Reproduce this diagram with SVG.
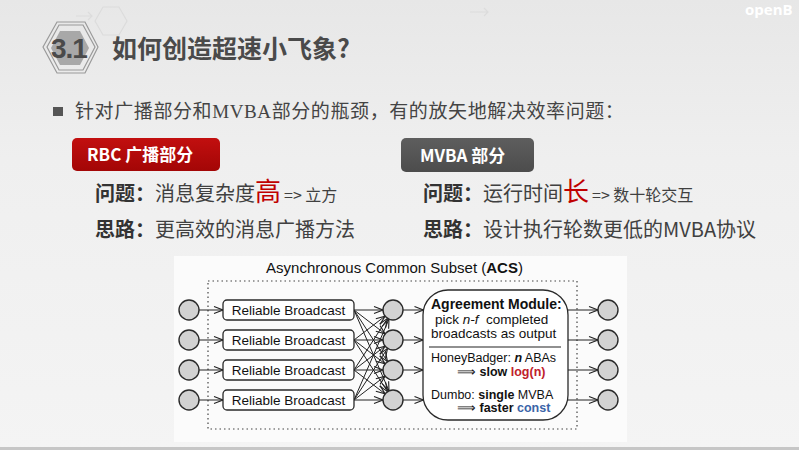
<svg xmlns="http://www.w3.org/2000/svg" width="799" height="450" viewBox="0 0 799 450">
  <defs>
    <linearGradient id="bg" x1="0" y1="0" x2="0" y2="1">
      <stop offset="0" stop-color="#e7e7e7"/>
      <stop offset="0.35" stop-color="#efefef"/>
      <stop offset="1" stop-color="#f4f4f4"/>
    </linearGradient>
    <linearGradient id="redTag" x1="0" y1="0" x2="0" y2="1">
      <stop offset="0" stop-color="#c20f0f"/>
      <stop offset="1" stop-color="#a30606"/>
    </linearGradient>
    <linearGradient id="grayTag" x1="0" y1="0" x2="0" y2="1">
      <stop offset="0" stop-color="#5e5e5e"/>
      <stop offset="1" stop-color="#4c4c4c"/>
    </linearGradient>
    <marker id="arr" markerUnits="userSpaceOnUse" markerWidth="11" markerHeight="9" refX="10" refY="4.5" orient="auto">
      <path d="M1,1 L10,4.5 L1,8" fill="none" stroke="#222" stroke-width="1.1"/>
    </marker>
    <style>
      .cjk { font-family: "Noto Sans CJK SC", "Liberation Sans", sans-serif; }
      .body { fill: #404040; font-size: 20px; }
      .lbl { font-weight: bold; fill: #333; }
      .hi { fill: #c00000; font-size: 26px; }
      .sm { font-size: 16px; }
      .tagtxt { fill: #fff; font-size: 17px; font-weight: bold; }
      .sans { font-family: "Liberation Sans", Arial, sans-serif; fill: #111; }
      .node { fill: #d2d2d2; stroke: #2a2a2a; stroke-width: 1.4; }
      .box { fill: #fff; stroke: #2a2a2a; stroke-width: 1.3; }
      .edge { stroke: #222; stroke-width: 1; fill: none; marker-end: url(#arr); }
    </style>
  </defs>

  <!-- slide background -->
  <rect width="799" height="450" fill="url(#bg)"/>
  <rect x="0" y="447" width="799" height="3" fill="#c6c6c6"/>

  <!-- faint decorative outlines -->
  <g fill="none" stroke="#dcdcdc" stroke-width="1.2">
    <polygon points="95,21 103,7 119,7 127,21 119,35 103,35"/>
    <path d="M76,16 L92,16 M88,12 L92,16 L88,20"/>
    <path d="M470,12 L488,12 M484,8 L488,12 L484,16"/>
  </g>
  <text x="745" y="15" font-family="'Open Sans', 'Liberation Sans', sans-serif" font-size="15" font-weight="bold" fill="#ffffff">openB</text>

  <!-- section badge -->
  <g id="badge">
    <polygon points="43,47 57,22 85,22 98,47 85,73 57,73" fill="none" stroke="#9a9a9a" stroke-width="1.2"/>
    <polygon points="47,47 59,25 83,25 95,47 83,70 59,70" fill="none" stroke="#9a9a9a" stroke-width="1.2"/>
    <polygon points="51,48 60,31 80,31 89,48 80,65 60,65" fill="#a8a8a8"/>
    <text x="51" y="58" font-family="'Liberation Sans', Arial, sans-serif" font-size="28" font-weight="bold" letter-spacing="-1" fill="#4a4a4a">3.1</text>
  </g>
  <text id="title" x="112" y="58" class="cjk" font-size="25" font-weight="bold" fill="#4a4a4a">如何创造超速小飞象?</text>

  <!-- bullet line -->
  <rect x="53" y="107" width="10" height="9" fill="#555"/>
  <text x="75" y="118" class="cjk" font-size="19" letter-spacing="0.6" fill="#444">针对广播部分和<tspan font-family="'Liberation Serif', serif">MVBA</tspan>部分的瓶颈，有的放矢地解决效率问题：</text>

  <!-- RBC column -->
  <g id="rbc-tag">
    <rect x="72" y="138" width="148" height="33" rx="5" fill="url(#redTag)"/>
    <text x="87" y="161" class="cjk tagtxt">RBC 广播部分</text>
  </g>
  <text x="95" y="201" class="cjk body"><tspan class="lbl">问题：</tspan>消息复杂度<tspan class="hi">高</tspan><tspan class="sm" dx="3">=&gt; 立方</tspan></text>
  <text x="95" y="237" class="cjk body"><tspan class="lbl">思路：</tspan>更高效的消息广播方法</text>

  <!-- MVBA column -->
  <g id="mvba-tag">
    <rect x="401" y="138" width="133" height="34" rx="5" fill="url(#grayTag)"/>
    <text x="420" y="162" class="cjk tagtxt">MVBA 部分</text>
  </g>
  <text x="423" y="201" class="cjk body"><tspan class="lbl">问题：</tspan>运行时间<tspan class="hi">长</tspan><tspan class="sm" dx="3">=&gt; 数十轮交互</tspan></text>
  <text x="423" y="237" class="cjk body"><tspan class="lbl">思路：</tspan>设计执行轮数更低的MVBA协议</text>

  <!-- ACS figure panel -->
  <rect x="174" y="256" width="453" height="186" fill="#fbfbfb"/>
  <text x="394.5" y="273" class="sans" font-size="15" text-anchor="middle">Asynchronous Common Subset (<tspan font-weight="bold">ACS</tspan>)</text>
  <rect x="208" y="281" width="369" height="148" fill="none" stroke="#444" stroke-width="1.2" stroke-dasharray="1.5,3"/>

  <!-- connectors -->
  <g id="connectors">
    <!-- inputs to broadcast boxes -->
    <line class="edge" x1="199" y1="310" x2="223" y2="310"/>
    <line class="edge" x1="199" y1="340" x2="223" y2="340"/>
    <line class="edge" x1="199" y1="370" x2="223" y2="370"/>
    <line class="edge" x1="199" y1="400" x2="223" y2="400"/>
    <!-- all-to-all delivery: box row 1 -->
    <line class="edge" x1="354" y1="310" x2="383" y2="310"/>
    <line class="edge" x1="354" y1="310" x2="385.1" y2="333.9"/>
    <line class="edge" x1="354" y1="310" x2="387.5" y2="361.6"/>
    <line class="edge" x1="354" y1="310" x2="389" y2="390.8"/>
    <!-- box row 2 -->
    <line class="edge" x1="354" y1="340" x2="385.1" y2="316.1"/>
    <line class="edge" x1="354" y1="340" x2="383" y2="340"/>
    <line class="edge" x1="354" y1="340" x2="385.1" y2="363.9"/>
    <line class="edge" x1="354" y1="340" x2="387.5" y2="391.6"/>
    <!-- box row 3 -->
    <line class="edge" x1="354" y1="370" x2="387.5" y2="318.4"/>
    <line class="edge" x1="354" y1="370" x2="385.1" y2="346.1"/>
    <line class="edge" x1="354" y1="370" x2="383" y2="370"/>
    <line class="edge" x1="354" y1="370" x2="385.1" y2="393.9"/>
    <!-- box row 4 -->
    <line class="edge" x1="354" y1="400" x2="389" y2="319.2"/>
    <line class="edge" x1="354" y1="400" x2="387.5" y2="348.4"/>
    <line class="edge" x1="354" y1="400" x2="385.1" y2="376.1"/>
    <line class="edge" x1="354" y1="400" x2="383" y2="400"/>
    <!-- delivered sets into the agreement module -->
    <line class="edge" x1="403" y1="310" x2="423.5" y2="310"/>
    <line class="edge" x1="403" y1="340" x2="423" y2="340"/>
    <line class="edge" x1="403" y1="370" x2="423" y2="370"/>
    <line class="edge" x1="403" y1="400" x2="423.5" y2="400"/>
    <!-- outputs -->
    <line class="edge" x1="567.5" y1="310" x2="598" y2="310"/>
    <line class="edge" x1="568" y1="340" x2="598" y2="340"/>
    <line class="edge" x1="568" y1="370" x2="598" y2="370"/>
    <line class="edge" x1="567.5" y1="400" x2="598" y2="400"/>
  </g>

  <!-- input parties -->
  <g id="in1"><circle class="node" cx="189" cy="310" r="10"/></g>
  <g id="in2"><circle class="node" cx="189" cy="340" r="10"/></g>
  <g id="in3"><circle class="node" cx="189" cy="370" r="10"/></g>
  <g id="in4"><circle class="node" cx="189" cy="400" r="10"/></g>

  <!-- reliable broadcast instances -->
  <g id="rbc1"><rect class="box" x="223" y="300" width="131" height="20" rx="4"/><text x="288.5" y="315" class="sans" font-size="13.5" text-anchor="middle">Reliable Broadcast</text></g>
  <g id="rbc2"><rect class="box" x="223" y="330" width="131" height="20" rx="4"/><text x="288.5" y="345" class="sans" font-size="13.5" text-anchor="middle">Reliable Broadcast</text></g>
  <g id="rbc3"><rect class="box" x="223" y="360" width="131" height="20" rx="4"/><text x="288.5" y="375" class="sans" font-size="13.5" text-anchor="middle">Reliable Broadcast</text></g>
  <g id="rbc4"><rect class="box" x="223" y="390" width="131" height="20" rx="4"/><text x="288.5" y="405" class="sans" font-size="13.5" text-anchor="middle">Reliable Broadcast</text></g>

  <!-- receiving parties -->
  <g id="mid1"><circle class="node" cx="393" cy="310" r="10"/></g>
  <g id="mid2"><circle class="node" cx="393" cy="340" r="10"/></g>
  <g id="mid3"><circle class="node" cx="393" cy="370" r="10"/></g>
  <g id="mid4"><circle class="node" cx="393" cy="400" r="10"/></g>

  <!-- agreement module -->
  <g id="agreement">
    <rect class="box" x="423" y="290" width="145" height="130" rx="25" stroke-width="1.4"/>
    <text x="431" y="309" class="sans" font-size="14" font-weight="bold">Agreement Module:</text>
    <text x="435" y="324" class="sans" font-size="13.5" style="white-space:pre">pick <tspan font-style="italic">n-f</tspan>  completed</text>
    <text x="431" y="338" class="sans" font-size="13.5">broadcasts as output</text>
    <line x1="429" y1="347" x2="561" y2="347" stroke="#222" stroke-width="1.2"/>
    <text x="431" y="362" class="sans" font-size="12.5">HoneyBadger: <tspan font-weight="bold" font-style="italic">n</tspan> ABAs</text>
    <text x="457" y="376" class="sans" font-size="12.5">⟹ <tspan font-weight="bold">slow</tspan> <tspan font-weight="bold" fill="#c0202a">log(n)</tspan></text>
    <text x="431" y="399" class="sans" font-size="12.5">Dumbo: <tspan font-weight="bold">single</tspan> MVBA</text>
    <text x="457" y="412" class="sans" font-size="12.5">⟹ <tspan font-weight="bold">faster</tspan> <tspan font-weight="bold" fill="#3a64a8">const</tspan></text>
  </g>

  <!-- output parties -->
  <g id="out1"><circle class="node" cx="608" cy="310" r="10"/></g>
  <g id="out2"><circle class="node" cx="608" cy="340" r="10"/></g>
  <g id="out3"><circle class="node" cx="608" cy="370" r="10"/></g>
  <g id="out4"><circle class="node" cx="608" cy="400" r="10"/></g>
</svg>
